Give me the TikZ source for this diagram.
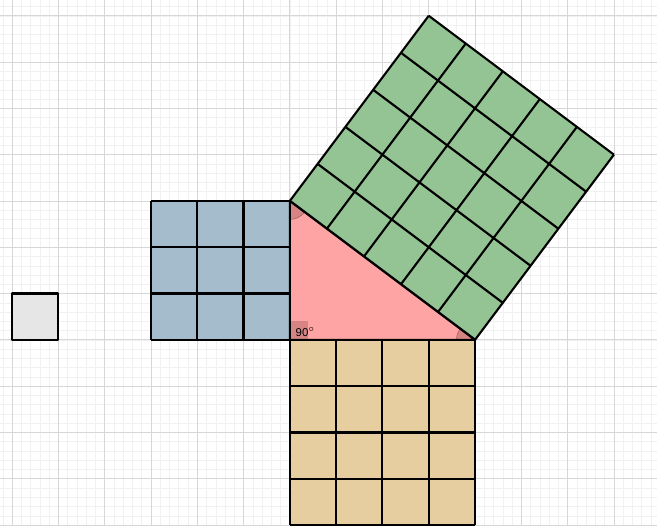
\documentclass[tikz,border=0pt]{standalone}
\usepackage{fontspec}
\setsansfont{Liberation Sans}
\usepackage{tikz}
\usetikzlibrary{calc}

\definecolor{gridmajor}{RGB}{215,215,215}
\definecolor{gridminor}{RGB}{241,241,241}
\definecolor{sqgray}{RGB}{230,230,230}
\definecolor{sqblue}{RGB}{164,188,203}
\definecolor{sqgreen}{RGB}{148,196,148}
\definecolor{sqtan}{RGB}{230,206,160}
\definecolor{tripink}{RGB}{255,164,164}
\definecolor{anglered}{RGB}{214,132,132}

\tikzset{
    square/.style={draw=black, line width=1.3pt, line join=round},
    anglemark/.style={fill=anglered, draw=anglered!70!black, line width=0.3pt}
}

\begin{document}
\begin{tikzpicture}
    \useasboundingbox (-6.26,-4) rectangle (7.93,7.34);
    % background grid
    \draw[gridminor, line width=0.3pt, step=0.2] (-6.26,-4) grid (7.93,7.34);
    \draw[gridmajor, line width=0.5pt, step=1] (-6.26,-4) grid (7.93,7.34);

    \coordinate (A) at (0,0);
    \coordinate (B) at (0,3);
    \coordinate (C) at (4,0);

    % unit square
    \filldraw[square, fill=sqgray] (-6,0) rectangle (-5,1);

    % square on the vertical leg
    \fill[sqblue] (-3,0) rectangle (0,3);
    \draw[square] (-3,0) grid (0,3);

    % square on the horizontal leg
    \fill[sqtan] (0,-4) rectangle (4,0);
    \draw[square] (0,-4) grid (4,0);

    % square on the hypotenuse
    \begin{scope}[shift={(B)}, rotate=-36.87]
        \fill[sqgreen] (0,0) rectangle (5,5);
        \draw[square] (0,0) grid (5,5);
    \end{scope}

    % triangle
    \fill[tripink] (A) -- (B) -- (C) -- cycle;
    \fill[anglered] (A) rectangle (0.4,0.4);
    \draw[anglemark] (B) -- ++(-90:0.4) arc[start angle=-90, end angle=-36.87, radius=0.4] -- cycle;
    \draw[anglemark] (C) -- ++(180:0.4) arc[start angle=180, end angle=143.13, radius=0.4] -- cycle;
    \node[font=\sffamily\scriptsize, inner sep=0pt, anchor=south west] (rightangle) at (0.12,0.06) {90$^{\circ}$};
    \draw[square] (A) -- (B) -- (C) -- cycle;
\end{tikzpicture}
\end{document}
